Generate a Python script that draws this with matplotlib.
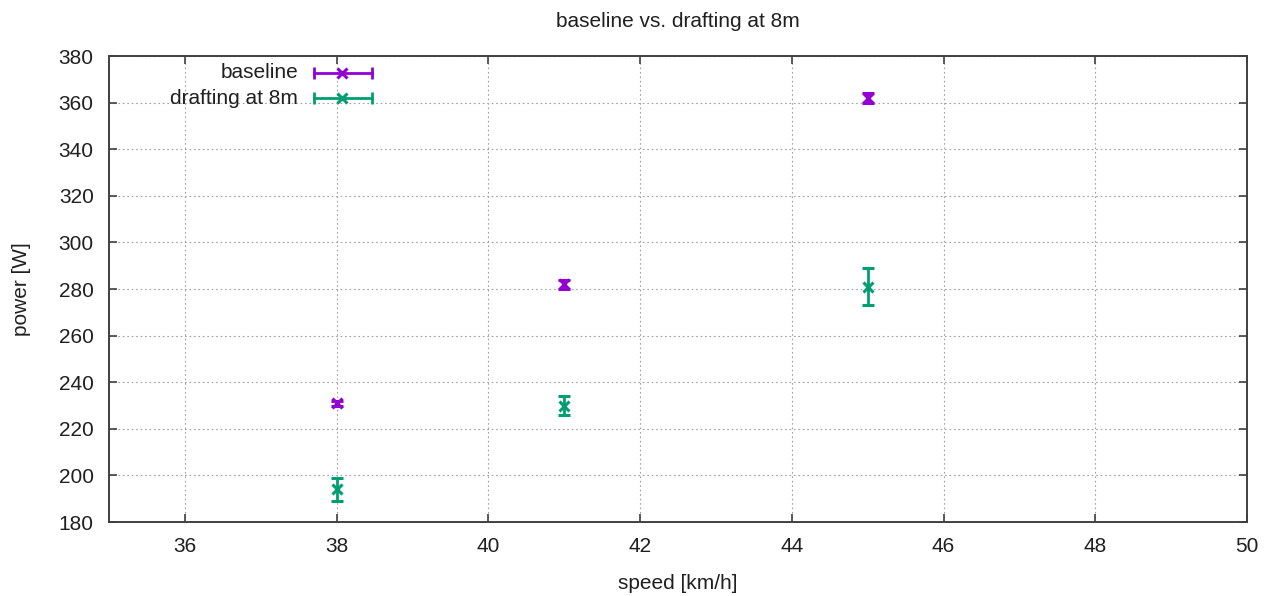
import matplotlib
matplotlib.use("Agg")
import matplotlib.pyplot as plt

speed = [38, 41, 45]
baseline_power = [231, 282, 362]
baseline_err = [1, 2, 2]
drafting_power = [194, 230, 281]
drafting_err = [5, 4, 8]
series_labels = ["baseline", "drafting at 8m"]
colors = ["#9400d3", "#009e73"]

plt.rcParams['font.family'] = ['Liberation Sans', 'DejaVu Sans']
plt.rcParams['font.size'] = 15

fig = plt.figure(figsize=(12.69, 5.96), dpi=100)
ax = fig.add_axes([109/1269, 1-522/596, (1247-109)/1269, (522-56)/596])

for y, e, c in [(baseline_power, baseline_err, colors[0]), (drafting_power, drafting_err, colors[1])]:
    ax.errorbar(speed, y, yerr=e, fmt='x', color=c, ecolor=c, elinewidth=2,
                capsize=4, capthick=2, markersize=7, markeredgewidth=2.2, zorder=3)

ax.set_xlim(35, 50)
ax.set_ylim(180, 380)
ax.set_xticks(range(36, 51, 2))
ax.set_yticks(range(180, 381, 20))
ax.grid(True, linestyle=(0, (1.5, 2.5)), color='#a0a0a0', linewidth=0.8)
ax.tick_params(direction='in', length=6, width=1.2, top=True, right=True,
               colors='#404040', labelcolor='#202020', pad=11)
for s in ax.spines.values():
    s.set_color('#404040')
    s.set_linewidth(1.4)

ax.set_title("baseline vs. drafting at 8m", fontsize=15, pad=21, color='#202020')
ax.set_xlabel("speed [km/h]", labelpad=13, color='#202020')
ax.set_ylabel("power [W]", labelpad=20, color='#202020')

# legend (gnuplot-style key)
tr = ax.transAxes
W, H = 1247-109, 522-56
def ax_xy(px, py):
    return ((px-109)/W, (522-py)/H)
for i, (lab, c) in enumerate(zip(series_labels, colors)):
    py = 73 + 25*i
    tx, ty = ax_xy(298, py)
    ax.text(tx, ty, lab, transform=tr, ha='right', va='center', color='#202020')
    x0, yy = ax_xy(314, py)
    x1, _ = ax_xy(372, py)
    xm, _ = ax_xy(342, py)
    ax.plot([x0, x1], [yy, yy], transform=tr, color=c, lw=2, clip_on=False)
    ax.plot([x0, x1], [yy, yy], transform=tr, color=c, lw=0, marker='|',
            markersize=8, markeredgewidth=2, clip_on=False)
    ax.plot([xm], [yy], transform=tr, color=c, marker='x', markersize=7,
            markeredgewidth=2.2, clip_on=False)

fig.savefig("out.png", dpi=100)
